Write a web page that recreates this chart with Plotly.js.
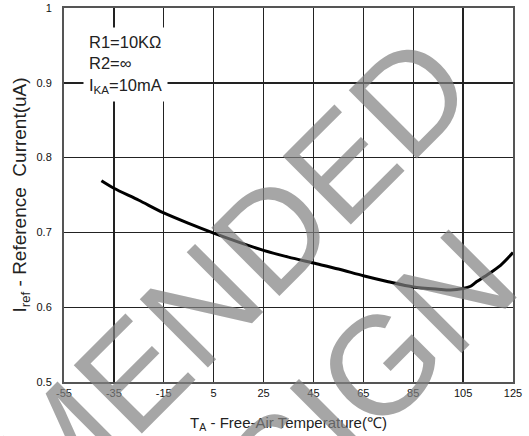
<!DOCTYPE html>
<html>
<head>
<meta charset="utf-8">
<script src="https://cdn.plot.ly/plotly-3.0.1.min.js"></script>
<style>
  html, body { margin: 0; padding: 0; background: #fff; }
  #chart { width: 529px; height: 436px; }
</style>
</head>
<body>
<div id="chart"></div>
<script>
// Temperature (°C) and reference current (uA)
const temperature = [-40, -35, -25, -15, -5, 5, 15, 25, 35, 45, 55, 65, 75, 85, 95, 100, 105, 108, 110, 115, 120, 125];
const refCurrent  = [0.769, 0.759, 0.743, 0.726, 0.712, 0.699, 0.687, 0.676, 0.667, 0.659, 0.651, 0.642, 0.634, 0.627, 0.624, 0.623, 0.625, 0.628, 0.633, 0.644, 0.656, 0.673];

const xTickVals = [-55, -35, -15, 5, 25, 45, 65, 85, 105, 125];
const yTickVals = [0.5, 0.6, 0.7, 0.8, 0.9, 1];
const yTickText = ['0.5', '0.6', '0.7', '0.8', '0.9', '1'];

const conditionsText = 'R1=10KΩ<br>R2=∞<br>I<sub>KA</sub>=10mA';
const xTitleText = 'T<sub>A</sub> - Free-Air Temperature(℃)';
const yTitleText = 'I<sub>ref</sub> - Reference  Current(uA)';
const watermark1 = 'RECOMMENDED';
const watermark2 = 'DESIGN';

// plot area in page pixels: x 64..513, y 8..382
const L = 64, R = 513, T = 8, B = 382;
const px = v => (v - L) / (R - L);
const py = v => (B - v) / (B - T);

const regular = 'Liberation Sans, Arial, sans-serif';

const trace = {
  x: temperature,
  y: refCurrent,
  type: 'scatter',
  mode: 'lines',
  line: { color: '#000', width: 3, shape: 'spline', smoothing: 0.8 },
  hoverinfo: 'skip'
};

const axisCommon = {
  showgrid: true,
  gridcolor: '#222',
  gridwidth: 1.4,
  zeroline: false,
  showline: true,
  mirror: true,
  linecolor: '#555',
  linewidth: 2,
  ticks: '',
  tickfont: { family: regular, size: 11, color: '#111' }
};

const layout = {
  width: 529,
  height: 436,
  margin: { l: L, r: 529 - R, t: T, b: 436 - B },
  paper_bgcolor: '#fff',
  plot_bgcolor: '#fff',
  showlegend: false,
  xaxis: Object.assign({}, axisCommon, {
    range: [-55, 125],
    tickvals: xTickVals,
    ticktext: xTickVals.map(String),
    ticklabelstandoff: 0,
    title: { text: xTitleText, font: { family: regular, size: 15, color: '#222' }, standoff: 19 }
  }),
  yaxis: Object.assign({}, axisCommon, {
    range: [0.5, 1],
    tickvals: yTickVals,
    ticktext: yTickText,
    ticklabelstandoff: 8,
    title: { text: yTitleText, font: { family: regular, size: 19, color: '#222' }, standoff: 5 }
  }),
  annotations: [
    {
      xref: 'paper', yref: 'paper',
      x: px(47), y: py(459),
      text: watermark1, showarrow: false, textangle: -45,
      xanchor: 'center', yanchor: 'middle',
      font: { family: regular, size: 140, color: 'rgba(128,128,128,0.7)' }
    },
    {
      xref: 'paper', yref: 'paper',
      x: px(300), y: py(445),
      text: watermark2, showarrow: false, textangle: -45,
      xanchor: 'center', yanchor: 'middle',
      font: { family: regular, size: 140, color: 'rgba(128,128,128,0.7)' }
    },
    {
      xref: 'paper', yref: 'paper',
      x: px(83), y: py(27),
      xanchor: 'left', yanchor: 'top', align: 'left',
      text: conditionsText, showarrow: false,
      bgcolor: '#fff', borderpad: 5,
      font: { family: regular, size: 16.5, color: '#222' }
    }
  ]
};

Plotly.newPlot('chart', [trace], layout, { staticPlot: true, displayModeBar: false });
</script>
</body>
</html>
